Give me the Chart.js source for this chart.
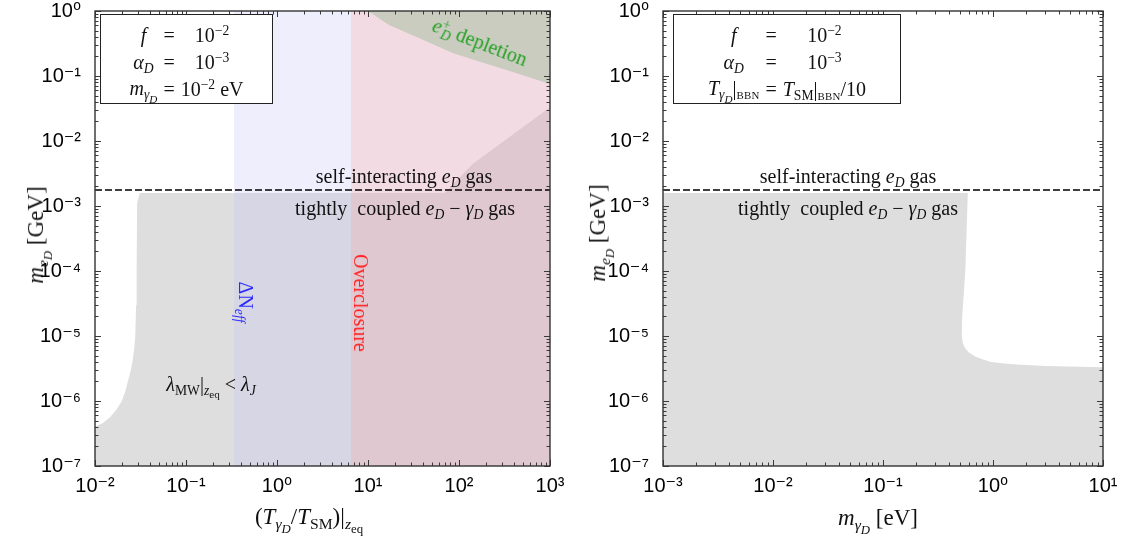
<!DOCTYPE html>
<html>
<head>
<meta charset="utf-8">
<script src="https://cdn.jsdelivr.net/npm/chart.js@4.4.1/dist/chart.umd.min.js"></script>
<style>
html, body { margin: 0; padding: 0; background: #fff; }
#wrap { position: relative; width: 1141px; height: 543px; overflow: hidden; }
canvas { position: absolute; top: 0; }
.tx { position: absolute; font-family: 'Liberation Serif', 'DejaVu Serif', serif; font-size: 20px;
      line-height: 1; white-space: nowrap; color: #111; transform: translate(-50%, -50%); }
.tx sub, .tx sup, .box sub, .box sup { font-size: 68%; line-height: 0; }
.tx sub sub, .box sub sub { font-size: 82%; }
.tx sub, .box sub { vertical-align: -0.32em; }
.tx sup, .box sup { vertical-align: 0.55em; }
.sc { font-size: 80%; letter-spacing: 0.02em; }
.box { position: absolute; border: 1.2px solid #222; background: #fff; color: #111;
       font-family: 'Liberation Serif', 'DejaVu Serif', serif; font-size: 20px; }
.box table { border-collapse: collapse; margin: 6px auto 0 auto; }
.box td { text-align: center; padding: 0 3px; height: 27px; line-height: 1; white-space: nowrap; }
</style>
</head>
<body>
<div id="wrap">
  <canvas id="left" width="570" height="543" style="left:0"></canvas>
  <canvas id="right" width="571" height="543" style="left:570px"></canvas>

  <div class="box" style="left:100px;top:14px;width:171px;height:88px">
    <table>
      <tr><td><i>f</i></td><td>=</td><td>10<sup>−2</sup></td></tr>
      <tr><td><i>α</i><sub><i>D</i></sub></td><td>=</td><td>10<sup>−3</sup></td></tr>
      <tr><td><i>m</i><sub><i>γ</i><sub><i>D</i></sub></sub></td><td>=</td><td>10<sup>−2</sup> eV</td></tr>
    </table>
  </div>
  <div class="box" style="left:673px;top:14px;width:226px;height:88px">
    <table>
      <tr><td><i>f</i></td><td>=</td><td>10<sup>−2</sup></td></tr>
      <tr><td><i>α</i><sub><i>D</i></sub></td><td>=</td><td>10<sup>−3</sup></td></tr>
      <tr><td><i>T</i><sub><i>γ</i><sub><i>D</i></sub></sub>|<sub><span class="sc">BBN</span></sub></td><td>=</td><td><i>T</i><sub>SM</sub>|<sub><span class="sc">BBN</span></sub>/10</td></tr>
    </table>
  </div>

  <div class="tx" style="left:480px;top:42px;color:#23a023;transform:translate(-50%,-50%) rotate(21deg)"><i>e</i><sup>+</sup><sub style="margin-left:-0.45em"><i>D</i></sub> depletion</div>
  <div class="tx" style="left:404px;top:176px">self-interacting <i>e</i><sub><i>D</i></sub> gas</div>
  <div class="tx" style="left:405px;top:208px">tightly&nbsp; coupled <i>e</i><sub><i>D</i></sub> − <i>γ</i><sub><i>D</i></sub> gas</div>
  <div class="tx" style="left:246px;top:302px;color:#2a2aff;transform:translate(-50%,-50%) rotate(90deg)">ΔN<sub><i>eff</i></sub></div>
  <div class="tx" style="left:361px;top:303px;color:#ff2020;transform:translate(-50%,-50%) rotate(90deg)">Overclosure</div>
  <div class="tx" style="left:211px;top:384px"><i>λ</i><sub>MW</sub>|<sub><i>z</i><sub>eq</sub></sub> &lt; <i>λ</i><sub><i>J</i></sub></div>

  <div class="tx" style="left:848px;top:176px">self-interacting <i>e</i><sub><i>D</i></sub> gas</div>
  <div class="tx" style="left:848px;top:208px">tightly&nbsp; coupled <i>e</i><sub><i>D</i></sub> − <i>γ</i><sub><i>D</i></sub> gas</div>

  <div class="tx" style="left:36px;top:235px;font-size:23px;transform:translate(-50%,-50%) rotate(-90deg)"><i>m</i><sub><i>e</i><sub><i>D</i></sub></sub> [GeV]</div>
  <div class="tx" style="left:598px;top:233px;font-size:23px;transform:translate(-50%,-50%) rotate(-90deg)"><i>m</i><sub><i>e</i><sub><i>D</i></sub></sub> [GeV]</div>
  <div class="tx" style="left:309px;top:517px;font-size:23px">(<i>T</i><sub><i>γ</i><sub><i>D</i></sub></sub>/<i>T</i><sub>SM</sub>)|<sub><i>z</i><sub>eq</sub></sub></div>
  <div class="tx" style="left:878px;top:518px;font-size:23px"><i>m</i><sub><i>γ</i><sub><i>D</i></sub></sub> [eV]</div>
</div>

<script>
// tick labels
const yTickLabels = ['10⁻⁷', '10⁻⁶', '10⁻⁵', '10⁻⁴', '10⁻³', '10⁻²', '10⁻¹', '10⁰'];
const leftXTickLabels = ['10⁻²', '10⁻¹', '10⁰', '10¹', '10²', '10³'];
const rightXTickLabels = ['10⁻³', '10⁻²', '10⁻¹', '10⁰', '10¹'];

// boundary between self-interacting and tightly coupled gas (GeV)
const couplingY = 1.76e-3;
const leftLineX = [1e-2, 1e3];
const rightLineX = [1e-3, 1e1];

// left: lambda_MW < lambda_J region, upper edge
const jeansLeftX = [0.01, 0.012, 0.0146, 0.017, 0.0196, 0.0215, 0.0232, 0.0248, 0.026, 0.027, 0.0277, 0.0283, 0.0287, 0.029, 0.031, 70, 140, 1000];
const jeansLeftY = [4e-7, 4.5e-7, 5.6e-7, 7.2e-7, 9.8e-7, 1.4e-6, 2.1e-6, 3.0e-6, 4.3e-6, 6.5e-6, 1.0e-5, 3e-5, 1e-4, 1.1e-3, 1.58e-3, 1.58e-3, 4.4e-3, 3.3e-2];

// left: Delta N_eff and overclosure bands (x edges)
const dneffX = [0.336, 6.5];
const overX = [6.5, 1000];

// left: e_D+ depletion, lower edge
const depletionX = [10, 17, 40, 85, 170, 390, 1000];
const depletionY = [1, 0.61, 0.36, 0.226, 0.165, 0.115, 0.075];

// right: lambda_MW < lambda_J region, upper edge
const jeansRightX = [0.001, 0.59, 0.56, 0.525, 0.52, 0.53, 0.55, 0.6, 0.68, 0.8, 0.94, 1.2, 1.65, 3, 10];
const jeansRightY = [1.58e-3, 1.58e-3, 1e-4, 2e-5, 1e-5, 8e-6, 6.8e-6, 5.6e-6, 4.9e-6, 4.4e-6, 4.0e-6, 3.8e-6, 3.65e-6, 3.45e-6, 3.3e-6];

function pts(xs, ys) {
  return xs.map((x, i) => ({ x: x, y: ys[i] }));
}

function isDecade(v) {
  const e = Math.log10(v);
  return Math.abs(e - Math.round(e)) < 1e-6;
}

function logTicks(min, max) {
  const out = [];
  for (let e = Math.round(Math.log10(min)); e <= Math.round(Math.log10(max)); e++) {
    for (let k = 1; k <= 9; k++) {
      const v = k * Math.pow(10, e);
      if (v >= min * 0.999 && v <= max * 1.001) out.push({ value: v });
    }
  }
  return out;
}

// inward ticks on all four sides + frame
const frame = {
  id: 'frame',
  afterDatasetsDraw(chart) {
    const { ctx, chartArea: a, scales } = chart;
    ctx.save();
    ctx.strokeStyle = '#3a3a3a';
    ctx.lineWidth = 1;
    ctx.beginPath();
    for (const t of scales.x.ticks) {
      const p = Math.round(scales.x.getPixelForValue(t.value)) + 0.5;
      const len = isDecade(t.value) ? 6 : 3.5;
      ctx.moveTo(p, a.bottom); ctx.lineTo(p, a.bottom - len);
      ctx.moveTo(p, a.top); ctx.lineTo(p, a.top + len);
    }
    for (const t of scales.y.ticks) {
      const p = Math.round(scales.y.getPixelForValue(t.value)) + 0.5;
      const len = isDecade(t.value) ? 6 : 3.5;
      ctx.moveTo(a.left, p); ctx.lineTo(a.left + len, p);
      ctx.moveTo(a.right, p); ctx.lineTo(a.right - len, p);
    }
    ctx.stroke();
    ctx.lineWidth = 1.4;
    ctx.strokeStyle = '#333';
    ctx.strokeRect(a.left, a.top, a.width, a.height);
    ctx.restore();
  }
};

function region(data, color, fill, order) {
  return {
    data: data, showLine: true, pointRadius: 0, borderWidth: 0,
    borderColor: 'rgba(0,0,0,0)', backgroundColor: color, fill: fill, order: order
  };
}

function dashed(xs) {
  return {
    data: pts(xs, [couplingY, couplingY]), showLine: true, pointRadius: 0,
    borderColor: '#000', borderWidth: 1.6, borderDash: [7, 3], fill: false, order: 0
  };
}

function panel(id, xMin, xMax, xLabels, datasets, pad) {
  const xExp0 = Math.round(Math.log10(xMin));
  return new Chart(document.getElementById(id), {
    type: 'scatter',
    data: { datasets: datasets },
    options: {
      responsive: false,
      animation: false,
      layout: { padding: pad },
      plugins: { legend: { display: false }, tooltip: { enabled: false } },
      scales: {
        x: {
          type: 'logarithmic', min: xMin, max: xMax,
          grid: { display: false }, border: { display: false },
          afterBuildTicks: (s) => { s.ticks = logTicks(xMin, xMax); },
          afterFit: (s) => { s.height = 77; s.paddingLeft = 0; s.paddingRight = 0; },
          ticks: {
            autoSkip: false, maxRotation: 0, padding: 0, color: '#000',
            font: { family: "'Liberation Sans', 'DejaVu Sans', sans-serif", size: 20 },
            callback: (v) => isDecade(v) ? xLabels[Math.round(Math.log10(v)) - xExp0] : ''
          }
        },
        y: {
          type: 'logarithmic', min: 1e-7, max: 1,
          grid: { display: false }, border: { display: false },
          afterBuildTicks: (s) => { s.ticks = logTicks(1e-7, 1); },
          afterFit: (s) => { s.width = 60; s.paddingTop = 0; s.paddingBottom = 0; },
          ticks: {
            autoSkip: false, padding: 6, color: '#000',
            font: { family: "'Liberation Sans', 'DejaVu Sans', sans-serif", size: 20 },
            callback: (v) => isDecade(v) ? yTickLabels[Math.round(Math.log10(v)) + 7] : ''
          }
        }
      }
    },
    plugins: [frame]
  });
}

panel('left', 1e-2, 1e3, leftXTickLabels, [
  dashed(leftLineX),
  region(pts(depletionX, depletionY), '#c9ccbe', 'end', 1),
  region(pts(overX, [1, 1]), 'rgba(227,170,191,0.42)', 'start', 2),
  region(pts(dneffX, [1, 1]), 'rgba(193,193,247,0.27)', 'start', 3),
  region(pts(jeansLeftX, jeansLeftY), '#dedede', 'start', 4)
], { left: 35, right: 20, top: 11, bottom: 0 });

panel('right', 1e-3, 1e1, rightXTickLabels, [
  dashed(rightLineX),
  region(pts(jeansRightX, jeansRightY), '#dedede', 'start', 4)
], { left: 33, right: 38, top: 11, bottom: 0 });
</script>
</body>
</html>
